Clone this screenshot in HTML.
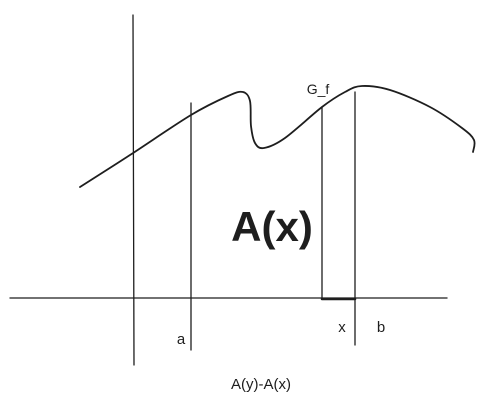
<!DOCTYPE html>
<html><head><meta charset="utf-8"><style>
html,body{margin:0;padding:0;background:#fff;}
svg{display:block;font-family:"Comic Sans MS","Liberation Sans",sans-serif;}
</style></head><body>
<svg width="490" height="409" viewBox="0 0 490 409">
<g id="g" stroke="#1e1e1e" fill="none" stroke-linecap="round"></g>
<text x="272" y="241" font-size="42" text-anchor="middle" fill="#1e1e1e" font-weight="bold">A(x)</text>
<text x="318" y="94" font-size="14" text-anchor="middle" fill="#1e1e1e">G_f</text>
<text x="181" y="344" font-size="15" text-anchor="middle" fill="#1e1e1e">a</text>
<text x="342" y="332" font-size="15" text-anchor="middle" fill="#1e1e1e">x</text>
<text x="381" y="332" font-size="15" text-anchor="middle" fill="#1e1e1e">b</text>
<text x="261" y="389" font-size="15" text-anchor="middle" fill="#1e1e1e">A(y)-A(x)</text>
</svg>
<script>
const curveX=[80,130,191,228,243,250,251,255,264,285,322,345,362,390,430,462,474,473];
const curveY=[187,155,115,96,92,101,126,143,148,138,107,92,86,90,107,128,140,152];
const NS="http://www.w3.org/2000/svg";
const g=document.getElementById('g');
function line(x1,y1,x2,y2,name,w){
  const l=document.createElementNS(NS,'line');
  l.setAttribute('x1',x1);l.setAttribute('y1',y1);l.setAttribute('x2',x2);l.setAttribute('y2',y2);
  l.setAttribute('stroke-width',w||1.3);
  
  
  g.appendChild(l);
}
line(133,15,134,365,'y-axis');
line(10,298,447,298,'x-axis');
line(191,103,191,350,'line-a');
line(322,107,322,298,'line-left');
line(355,92,355,345,'line-x');
line(322,299,355,299,'strip-bottom',2.5);
let d='M'+curveX[0]+','+curveY[0];
for(let i=0;i<curveX.length-1;i++){
  const p0=[curveX[Math.max(i-1,0)],curveY[Math.max(i-1,0)]];
  const p1=[curveX[i],curveY[i]],p2=[curveX[i+1],curveY[i+1]];
  const j=Math.min(i+2,curveX.length-1);const p3=[curveX[j],curveY[j]];
  const c1=[p1[0]+(p2[0]-p0[0])/6,p1[1]+(p2[1]-p0[1])/6];
  const c2=[p2[0]-(p3[0]-p1[0])/6,p2[1]-(p3[1]-p1[1])/6];
  d+=' C'+c1+' '+c2+' '+p2;
}
const p=document.createElementNS(NS,'path');
p.setAttribute('d',d);p.setAttribute('stroke-width',1.8);


g.appendChild(p);
</script>
</body></html>
